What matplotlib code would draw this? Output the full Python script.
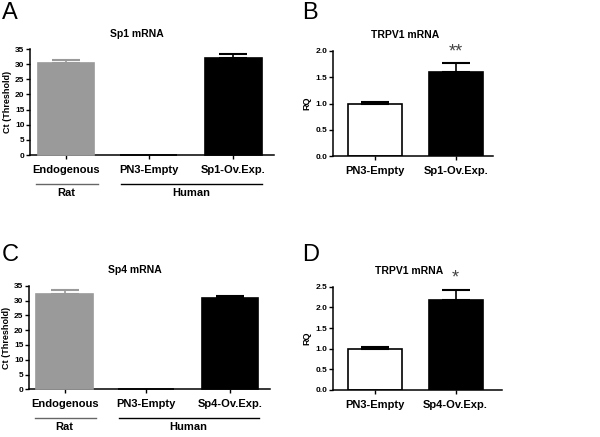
import matplotlib

matplotlib.use("Agg")
import matplotlib.pyplot as plt

plt.rcParams["font.family"] = ["Liberation Sans", "DejaVu Sans"]

W, H = 600, 437

# Panel A / C: Ct values
ct_cats = ["Endogenous", "PN3-Empty", "Sp1-Ov.Exp."]
sp1_ct = [30.3, 0.1, 32.1]
sp1_ct_err = [1.1, 0.0, 1.1]
sp4_cats = ["Endogenous", "PN3-Empty", "Sp4-Ov.Exp."]
sp4_ct = [32.3, 0.1, 30.8]
sp4_ct_err = [1.1, 0.0, 0.6]
group_names = ["Rat", "Human"]

# Panel B / D: TRPV1 RQ
rq_cats_b = ["PN3-Empty", "Sp1-Ov.Exp."]
rq_b = [1.0, 1.6]
rq_b_err = [0.03, 0.16]
rq_cats_d = ["PN3-Empty", "Sp4-Ov.Exp."]
rq_d = [1.0, 2.17]
rq_d_err = [0.03, 0.26]

GRAY = "#9a9a9a"
BLACK = "#000000"
CAP = 10  # points

fig = plt.figure(figsize=(W / 100, H / 100), dpi=100)


def px_axes(left, top, right, bottom):
    return fig.add_axes([left / W, 1 - bottom / H, (right - left) / W, (bottom - top) / H])


def style(ax, ymax, step, fmt):
    for s in ("top", "right"):
        ax.spines[s].set_visible(False)
    for s in ("left", "bottom"):
        ax.spines[s].set_linewidth(1.1)
    ax.set_ylim(0, ymax)
    ticks = [i * step for i in range(int(round(ymax / step)) + 1)]
    ax.set_yticks(ticks)
    ax.set_yticklabels([fmt.format(t) for t in ticks], fontsize=6, fontweight="bold")
    ax.tick_params(axis="y", length=3, width=1, pad=1)
    ax.tick_params(axis="x", length=3, width=1, pad=4)


def ct_panel(ax, cats, vals, errs, title, letter, letter_xy):
    pos = [0.62, 2.04, 3.5]
    colors = [GRAY, BLACK, BLACK]
    for p, v, e, c in zip(pos, vals, errs, colors):
        ax.bar(p, v, width=0.98, color=c, edgecolor=c, linewidth=1.2, zorder=3,
               clip_on=False)
        if e > 0:
            ax.errorbar(p, v, yerr=[[0], [e]], fmt="none", ecolor=c,
                        elinewidth=1.2, capsize=CAP, capthick=1.5, zorder=3)
    ax.set_xlim(0, 4.2)
    style(ax, 35, 5, "{:.0f}")
    ax.set_xticks(pos)
    ax.set_xticklabels(cats, fontsize=8, fontweight="bold")
    ax.set_ylabel("Ct (Threshold)", fontsize=6.5, fontweight="bold", labelpad=2)
    ax.set_title(title, fontsize=7.5, fontweight="bold", pad=9, x=0.44)
    tr = ax.get_xaxis_transform()
    # group brackets under the category labels
    ax.plot([0.1, 1.17], [-0.275, -0.275], color="#666666", lw=1, transform=tr, clip_on=False)
    ax.plot([1.56, 4.0], [-0.275, -0.275], color=BLACK, lw=1, transform=tr, clip_on=False)
    ax.text(0.62, -0.36, group_names[0], transform=tr, ha="center", va="center",
            fontsize=8, fontweight="bold")
    ax.text(2.78, -0.36, group_names[1], transform=tr, ha="center", va="center",
            fontsize=8, fontweight="bold")
    fig.text(letter_xy[0] / W, 1 - letter_xy[1] / H, letter, fontsize=17,
             ha="left", va="center")


def rq_panel(ax, cats, vals, errs, ymax, star, title, letter, letter_xy, xmax):
    pos = [0.77, 2.27]
    faces = ["white", BLACK]
    for p, v, e, f in zip(pos, vals, errs, faces):
        ax.bar(p, v, width=1.0, color=f, edgecolor=BLACK, linewidth=1.2, zorder=2)
        ax.errorbar(p, v, yerr=[[0], [e]], fmt="none", ecolor=BLACK,
                    elinewidth=1.2, capsize=CAP, capthick=1.5, zorder=3)
    ax.text(pos[1], vals[1] + errs[1] + ymax * 0.03, star, ha="center", va="bottom",
            fontsize=13, color="#444444")
    ax.set_xlim(0, xmax)
    style(ax, ymax, 0.5, "{:.1f}")
    ax.set_xticks(pos)
    ax.set_xticklabels(cats, fontsize=8, fontweight="bold")
    ax.set_ylabel("RQ", fontsize=6.5, fontweight="bold", labelpad=3)
    ax.set_title(title, fontsize=7.5, fontweight="bold", pad=9, x=0.45)
    fig.text(letter_xy[0] / W, 1 - letter_xy[1] / H, letter, fontsize=17,
             ha="left", va="center")


ax_a = px_axes(30, 49, 274, 155)
ct_panel(ax_a, ct_cats, sp1_ct, sp1_ct_err, "Sp1 mRNA", "A", (2, 13))

ax_c = px_axes(29, 285.7, 270, 389.3)
ct_panel(ax_c, sp4_cats, sp4_ct, sp4_ct_err, "Sp4 mRNA", "C", (2, 255))

ax_b = px_axes(333, 50.7, 493, 156.3)
rq_panel(ax_b, rq_cats_b, rq_b, rq_b_err, 2.0, "**", "TRPV1 mRNA", "B", (302, 13), 2.96)

ax_d = px_axes(333, 286.7, 502, 390)
rq_panel(ax_d, rq_cats_d, rq_d, rq_d_err, 2.5, "*", "TRPV1 mRNA", "D", (302, 255), 3.13)

fig.savefig("out.png", dpi=100, facecolor="white")
